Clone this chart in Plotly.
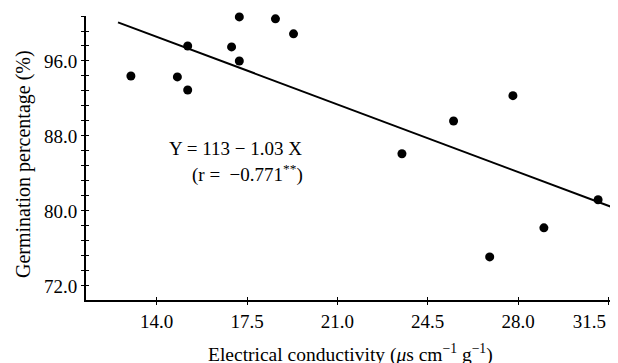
import plotly.graph_objects as go

# Data
ec = [13.0, 14.8, 15.2, 15.2, 16.9, 17.2, 17.2, 18.6, 19.3, 23.5, 25.5, 27.8, 26.9, 29.0, 31.1]
germ = [94.4, 94.3, 92.9, 97.6, 97.5, 96.0, 100.7, 100.5, 98.9, 86.1, 89.6, 92.3, 75.1, 78.2, 81.2]
fit_x = [12.5, 31.8]
fit_intercept = 113.0
fit_slope = -1.03
fit_y = [fit_intercept + fit_slope * v for v in fit_x]

x_ticks = [14.0, 17.5, 21.0, 24.5, 28.0, 31.5]
x_tick_labels = ["14.0", "17.5", "21.0", "24.5", "28.0",
                 "31.5\u00a0\u00a0\u00a0\u00a0\u00a0\u00a0\u00a0\u00a0"]
y_ticks = [72.0, 80.0, 88.0, 96.0]
y_tick_labels = ["72.0", "80.0", "88.0", "96.0"]

FONT = "Liberation Serif, Times New Roman, serif"
xr = [11.26, 31.6]
yr = [70.5, 100.8]

fig = go.Figure()
fig.add_trace(go.Scatter(x=fit_x, y=fit_y, mode="lines", cliponaxis=False,
                         line=dict(color="black", width=2), showlegend=False))
fig.add_trace(go.Scatter(x=ec, y=germ, mode="markers", cliponaxis=False,
                         marker=dict(color="black", size=9), showlegend=False))
# invisible trace for second axes
fig.add_trace(go.Scatter(x=[xr[0]], y=[yr[0]], xaxis="x2", yaxis="y2",
                         mode="markers", marker=dict(opacity=0), showlegend=False,
                         hoverinfo="skip"))

fig.update_layout(
    width=610, height=355,
    margin=dict(l=78, r=7, t=8, b=63, autoexpand=False),
    paper_bgcolor="white", plot_bgcolor="white",
    font=dict(family=FONT, size=19, color="black"),
    xaxis=dict(range=xr, tickvals=x_ticks, ticktext=x_tick_labels,
               ticks="outside", ticklen=3, tickwidth=1, tickcolor="black",
               showline=True, linecolor="black", linewidth=2,
               showgrid=False, zeroline=False, automargin=False,
               ticklabeloverflow="allow", ticklabelstandoff=0,
               tickfont=dict(family=FONT, size=19)),
    yaxis=dict(range=yr, tickvals=y_ticks, ticktext=y_tick_labels,
               ticks="outside", ticklen=3, tickwidth=1, tickcolor="black",
               showline=True, linecolor="black", linewidth=2,
               showgrid=False, zeroline=False, automargin=False,
               ticklabeloverflow="allow",
               minor=dict(tick0=72, dtick=1.6, ticks="outside", ticklen=3,
                          tickcolor="black", tickwidth=1, showgrid=False),
               tickfont=dict(family=FONT, size=19)),
    xaxis2=dict(range=xr, overlaying="x", anchor="y2", tickvals=x_ticks,
                showticklabels=False, ticks="inside", ticklen=3, tickwidth=1,
                tickcolor="black", showline=False, showgrid=False, zeroline=False,
                automargin=False),
    yaxis2=dict(range=yr, overlaying="y", anchor="x2", side="left",
                tickvals=y_ticks, showticklabels=False, ticks="inside", ticklen=3,
                tickwidth=1, tickcolor="black", showline=False, showgrid=False,
                zeroline=False, automargin=False,
                minor=dict(tick0=72, dtick=1.6, ticks="inside", ticklen=3,
                           tickcolor="black", tickwidth=1, showgrid=False)),
    annotations=[
        dict(text="Electrical conductivity (<i>μ</i>s cm<sup>−1</sup> g<sup>−1</sup>)",
             xref="paper", yref="paper", x=0.503, y=-0.187,
             xanchor="center", yanchor="middle", showarrow=False,
             font=dict(family=FONT, size=19.5)),
        dict(text="Germination percentage (%)",
             xref="paper", yref="paper", x=-0.118, y=0.479, textangle=-90,
             xanchor="center", yanchor="middle", showarrow=False,
             font=dict(family=FONT, size=20)),
        dict(text="Y = 113 − 1.03 X", xref="x", yref="y", x=17.07, y=86.7,
             xanchor="center", yanchor="middle", showarrow=False,
             font=dict(family=FONT, size=19)),
        dict(text="(r =  −0.771<sup>**</sup>)", xref="x", yref="y", x=17.5, y=84.05,
             xanchor="center", yanchor="middle", showarrow=False,
             font=dict(family=FONT, size=19)),
    ],
)

fig.write_html("out.html")
